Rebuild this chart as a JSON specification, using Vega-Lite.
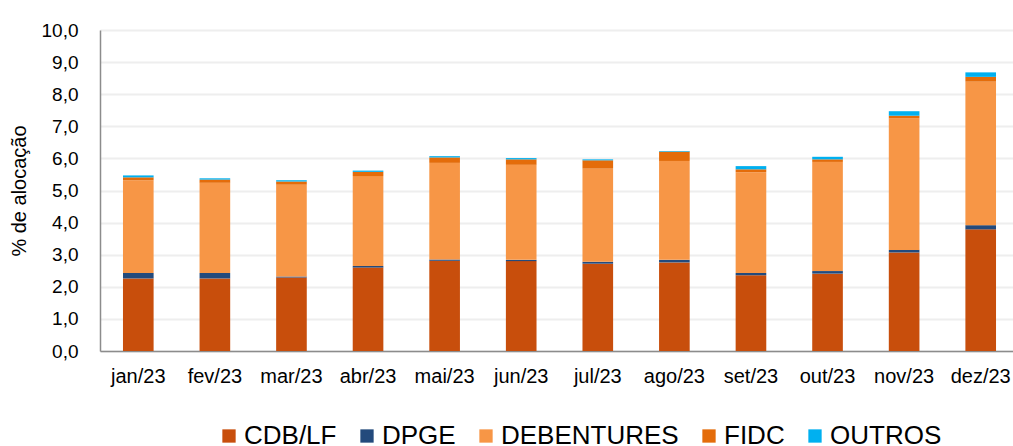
{
  "$schema": "https://vega.github.io/schema/vega-lite/v6.json",
  "width": 919,
  "height": 321,
  "autosize": {"type": "none"},
  "padding": {"left": 100, "top": 30, "right": 0, "bottom": 95},
  "background": "white",
  "config": {
    "font": "Liberation Sans",
    "view": {"stroke": null},
    "axis": {"labelFont": "Liberation Sans", "titleFont": "Liberation Sans", "labelColor": "#000000", "titleColor": "#000000"}
  },
  "datasets": {
    "ordem": [
      {"tipo": "CDB/LF", "rank": 1},
      {"tipo": "DPGE", "rank": 2},
      {"tipo": "DEBENTURES", "rank": 3},
      {"tipo": "FIDC", "rank": 4},
      {"tipo": "OUTROS", "rank": 5}
    ]
  },
  "data": {
    "values": [
      {"mes": "jan/23", "tipo": "CDB/LF", "valor": 2.26}, {"mes": "jan/23", "tipo": "DPGE", "valor": 0.17}, {"mes": "jan/23", "tipo": "DEBENTURES", "valor": 2.89}, {"mes": "jan/23", "tipo": "FIDC", "valor": 0.09}, {"mes": "jan/23", "tipo": "OUTROS", "valor": 0.06},
      {"mes": "fev/23", "tipo": "CDB/LF", "valor": 2.26}, {"mes": "fev/23", "tipo": "DPGE", "valor": 0.17}, {"mes": "fev/23", "tipo": "DEBENTURES", "valor": 2.81}, {"mes": "fev/23", "tipo": "FIDC", "valor": 0.10}, {"mes": "fev/23", "tipo": "OUTROS", "valor": 0.04},
      {"mes": "mar/23", "tipo": "CDB/LF", "valor": 2.29}, {"mes": "mar/23", "tipo": "DPGE", "valor": 0.03}, {"mes": "mar/23", "tipo": "DEBENTURES", "valor": 2.86}, {"mes": "mar/23", "tipo": "FIDC", "valor": 0.10}, {"mes": "mar/23", "tipo": "OUTROS", "valor": 0.04},
      {"mes": "abr/23", "tipo": "CDB/LF", "valor": 2.60}, {"mes": "abr/23", "tipo": "DPGE", "valor": 0.05}, {"mes": "abr/23", "tipo": "DEBENTURES", "valor": 2.80}, {"mes": "abr/23", "tipo": "FIDC", "valor": 0.13}, {"mes": "abr/23", "tipo": "OUTROS", "valor": 0.04},
      {"mes": "mai/23", "tipo": "CDB/LF", "valor": 2.81}, {"mes": "mai/23", "tipo": "DPGE", "valor": 0.04}, {"mes": "mai/23", "tipo": "DEBENTURES", "valor": 3.01}, {"mes": "mai/23", "tipo": "FIDC", "valor": 0.17}, {"mes": "mai/23", "tipo": "OUTROS", "valor": 0.04},
      {"mes": "jun/23", "tipo": "CDB/LF", "valor": 2.80}, {"mes": "jun/23", "tipo": "DPGE", "valor": 0.04}, {"mes": "jun/23", "tipo": "DEBENTURES", "valor": 2.96}, {"mes": "jun/23", "tipo": "FIDC", "valor": 0.17}, {"mes": "jun/23", "tipo": "OUTROS", "valor": 0.04},
      {"mes": "jul/23", "tipo": "CDB/LF", "valor": 2.72}, {"mes": "jul/23", "tipo": "DPGE", "valor": 0.06}, {"mes": "jul/23", "tipo": "DEBENTURES", "valor": 2.90}, {"mes": "jul/23", "tipo": "FIDC", "valor": 0.26}, {"mes": "jul/23", "tipo": "OUTROS", "valor": 0.03},
      {"mes": "ago/23", "tipo": "CDB/LF", "valor": 2.76}, {"mes": "ago/23", "tipo": "DPGE", "valor": 0.08}, {"mes": "ago/23", "tipo": "DEBENTURES", "valor": 3.08}, {"mes": "ago/23", "tipo": "FIDC", "valor": 0.29}, {"mes": "ago/23", "tipo": "OUTROS", "valor": 0.02},
      {"mes": "set/23", "tipo": "CDB/LF", "valor": 2.36}, {"mes": "set/23", "tipo": "DPGE", "valor": 0.07}, {"mes": "set/23", "tipo": "DEBENTURES", "valor": 3.14}, {"mes": "set/23", "tipo": "FIDC", "valor": 0.09}, {"mes": "set/23", "tipo": "OUTROS", "valor": 0.10},
      {"mes": "out/23", "tipo": "CDB/LF", "valor": 2.41}, {"mes": "out/23", "tipo": "DPGE", "valor": 0.08}, {"mes": "out/23", "tipo": "DEBENTURES", "valor": 3.40}, {"mes": "out/23", "tipo": "FIDC", "valor": 0.08}, {"mes": "out/23", "tipo": "OUTROS", "valor": 0.08},
      {"mes": "nov/23", "tipo": "CDB/LF", "valor": 3.07}, {"mes": "nov/23", "tipo": "DPGE", "valor": 0.08}, {"mes": "nov/23", "tipo": "DEBENTURES", "valor": 4.10}, {"mes": "nov/23", "tipo": "FIDC", "valor": 0.08}, {"mes": "nov/23", "tipo": "OUTROS", "valor": 0.14},
      {"mes": "dez/23", "tipo": "CDB/LF", "valor": 3.79}, {"mes": "dez/23", "tipo": "DPGE", "valor": 0.13}, {"mes": "dez/23", "tipo": "DEBENTURES", "valor": 4.47}, {"mes": "dez/23", "tipo": "FIDC", "valor": 0.15}, {"mes": "dez/23", "tipo": "OUTROS", "valor": 0.14}
    ]
  },
  "transform": [
    {"lookup": "tipo", "from": {"data": {"name": "ordem"}, "key": "tipo", "fields": ["rank"]}}
  ],
  "mark": {"type": "bar"},
  "encoding": {
    "x": {
      "field": "mes",
      "type": "nominal",
      "sort": null,
      "scale": {"paddingInner": 0.6, "paddingOuter": 0.3},
      "axis": {
        "title": null,
        "labelAngle": 0,
        "labelFontSize": 20,
        "labelPadding": 15,
        "ticks": false,
        "domainColor": "#8c8c8c",
        "domainWidth": 1.5,
        "grid": false
      }
    },
    "y": {
      "field": "valor",
      "type": "quantitative",
      "stack": "zero",
      "scale": {"domain": [0, 10], "nice": false},
      "axis": {
        "title": "% de alocação",
        "titleFontSize": 20,
        "titleFontWeight": "normal",
        "titlePadding": 12,
        "values": [0, 1, 2, 3, 4, 5, 6, 7, 8, 9, 10],
        "labelExpr": "replace(format(datum.value, '.1f'), '.', ',')",
        "labelFontSize": 19,
        "labelPadding": 22,
        "ticks": false,
        "domainColor": "#8c8c8c",
        "domainWidth": 1.5,
        "gridColor": "#eeeeee",
        "gridWidth": 2
      }
    },
    "order": {"field": "rank", "type": "quantitative", "sort": "ascending"},
    "color": {
      "field": "tipo",
      "type": "nominal",
      "scale": {
        "domain": ["CDB/LF", "DPGE", "DEBENTURES", "FIDC", "OUTROS"],
        "range": ["#C84E0C", "#234A7C", "#F79646", "#E46C0A", "#00B0F0"]
      },
      "legend": {
        "title": null,
        "orient": "none",
        "direction": "horizontal",
        "legendX": 116,
        "legendY": 393,
        "padding": 0,
        "values": ["CDB/LF", "DPGE", "DEBENTURES", "FIDC", "OUTROS"],
        "symbolType": "square",
        "symbolSize": 177,
        "symbolStrokeWidth": 0,
        "labelFontSize": 26,
        "labelLimit": 0,
        "labelOffset": 2,
        "columnPadding": 17,
        "labelColor": "#000000"
      }
    }
  }
}
